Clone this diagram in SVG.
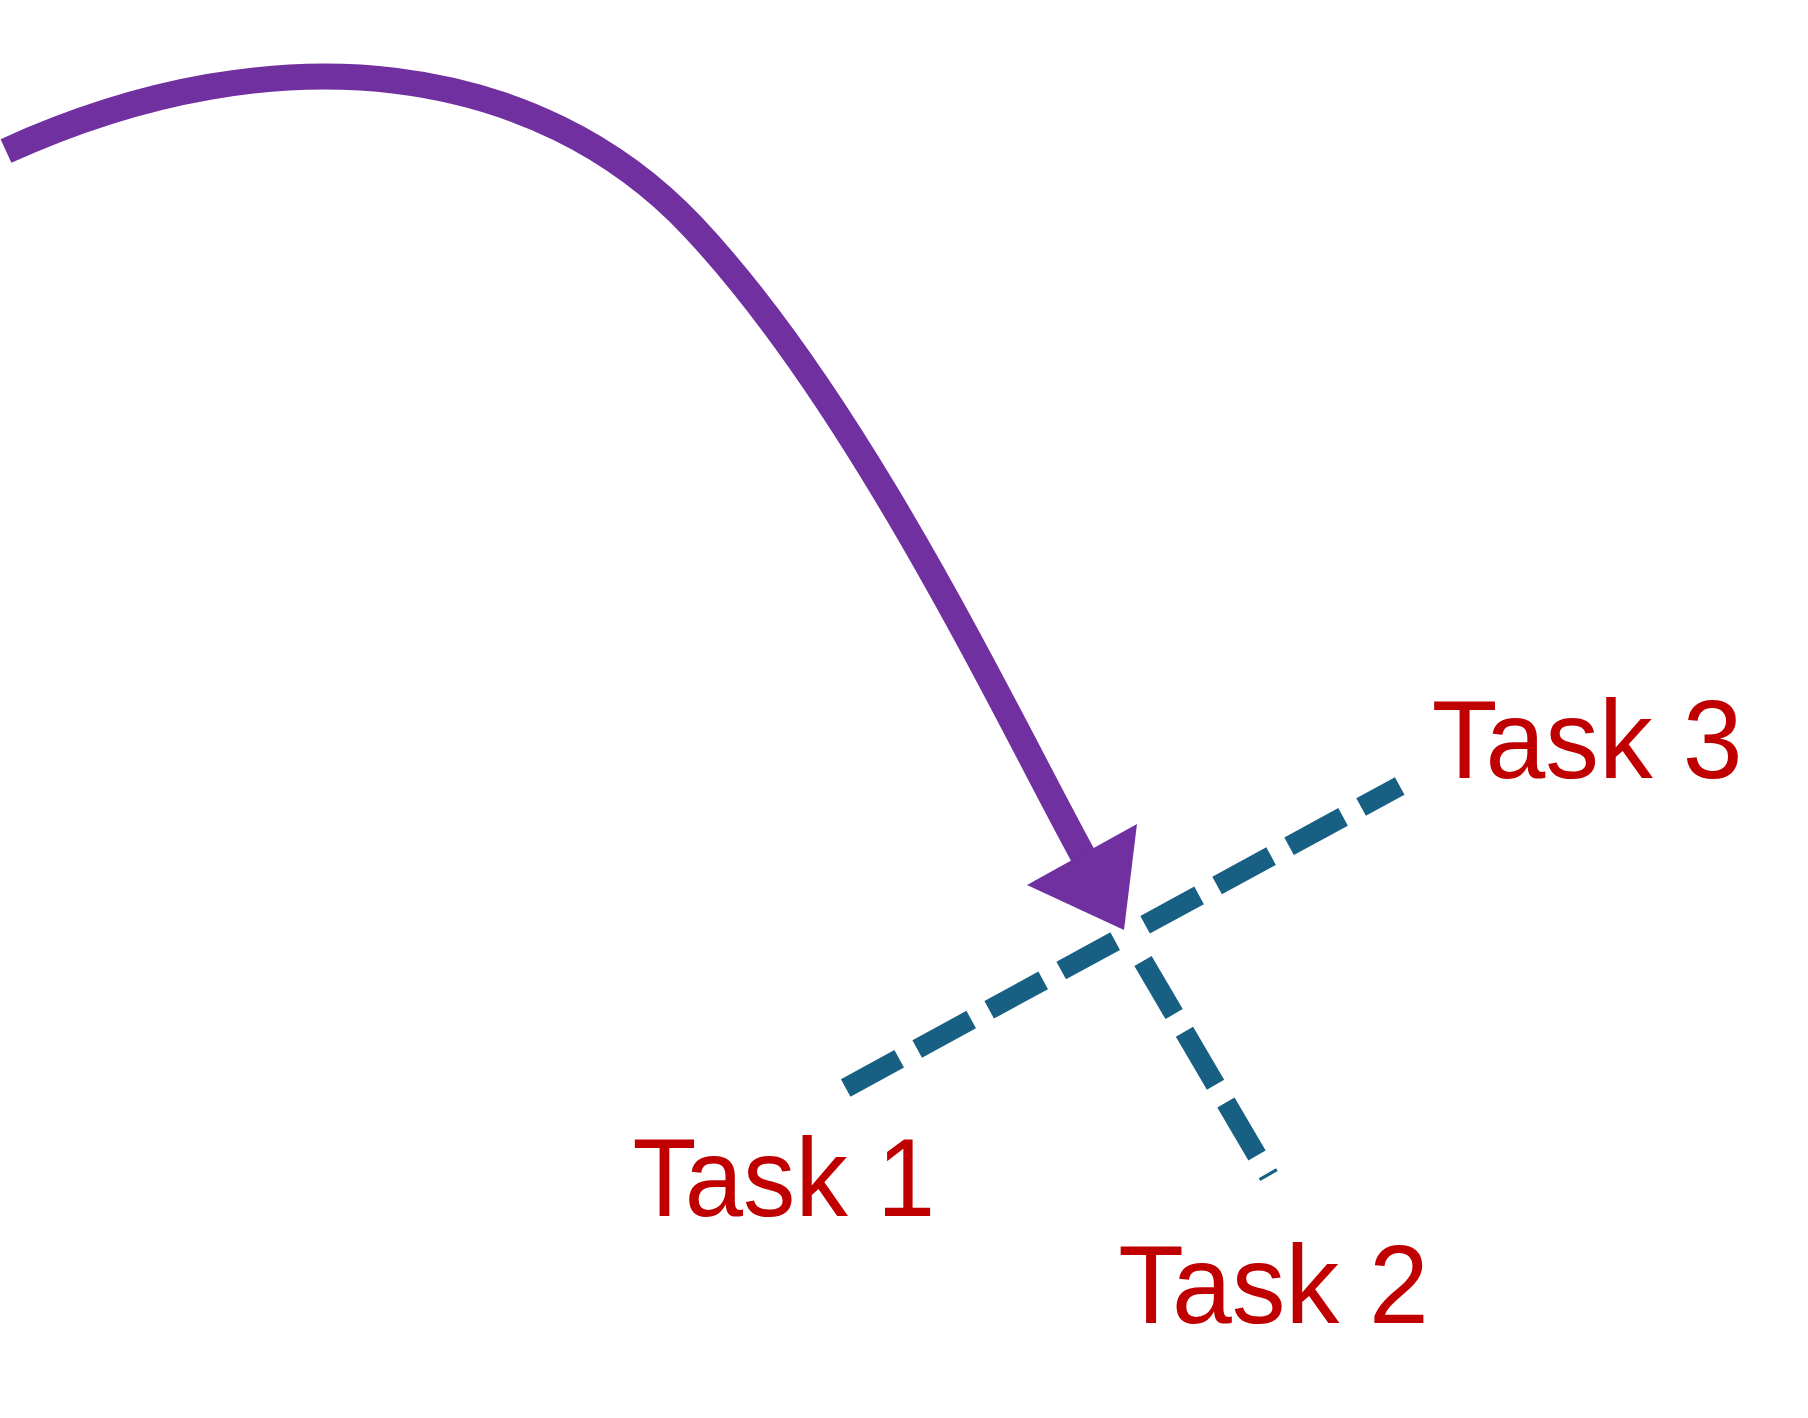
<svg xmlns="http://www.w3.org/2000/svg" width="1808" height="1418" viewBox="0 0 1808 1418">
<style>
.lbl{font-family:"Liberation Sans",Arial,sans-serif;font-size:112px;fill:#C00000;font-kerning:normal;font-feature-settings:"kern" 1}
.dash{fill:none;stroke:#186083;stroke-width:20;stroke-dasharray:61.5 20.5;stroke-linecap:butt}
.flow{fill:none;stroke:#7030A0;stroke-width:26;stroke-linecap:butt}
</style>
<rect width="1808" height="1418" fill="#ffffff"/>
<g id="connectors">
<path class="flow" d="M6,151 C283,25 540,65 692,226 C863.5,407.8 1013.4,730 1086,861"/>
<polygon points="1137,824 1027,885 1124,930" fill="#7030A0"/>
<line class="dash" x1="1115.2" y1="941.1" x2="845.7" y2="1088"/>
<line class="dash" x1="1143" y1="961" x2="1269" y2="1176"/>
<line class="dash" x1="1145.1" y1="924.8" x2="1399.7" y2="786"/>
</g>
<g id="task1"><text class="lbl" transform="translate(632.5,1216) scale(0.935,1)">Task 1</text></g>
<g id="task2"><text class="lbl" transform="translate(1118.2,1322.7) scale(0.96,1)">Task 2</text></g>
<g id="task3"><text class="lbl" transform="translate(1431.8,778.3) scale(0.96,1)">Task 3</text></g>
</svg>
